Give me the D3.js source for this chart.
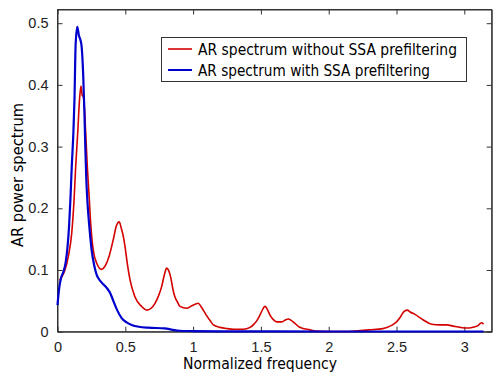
<!DOCTYPE html>
<html><head><meta charset="utf-8">
<script src="https://cdn.jsdelivr.net/npm/d3@7"></script>
<style>body{margin:0;background:#fff}svg{display:block}</style>
</head><body>
<script>
// Red: AR spectrum without SSA prefiltering (frequency, power)
const redFreq = [0.015,0.03,0.055,0.08,0.105,0.122,0.134,0.149,0.162,0.173,0.182,0.190,0.198,0.208,0.220,0.235,0.242,0.250,0.264,0.289,0.326,0.350,0.380,0.410,0.435,0.455,0.470,0.485,0.498,0.515,0.535,0.570,0.620,0.658,0.690,0.719,0.745,0.768,0.790,0.805,0.820,0.835,0.850,0.865,0.885,0.903,0.953,0.990,1.038,1.060,1.075,1.100,1.125,1.150,1.198,1.250,1.300,1.370,1.420,1.444,1.470,1.493,1.515,1.530,1.550,1.567,1.590,1.617,1.654,1.680,1.702,1.725,1.751,1.780,1.800,1.862,1.900,2.000,2.100,2.200,2.300,2.400,2.428,2.452,2.476,2.500,2.526,2.545,2.563,2.580,2.600,2.636,2.698,2.760,2.820,2.870,2.919,2.970,3.018,3.050,3.079,3.100,3.116,3.130,3.1416];
const redPower = [0.083,0.088,0.100,0.122,0.160,0.213,0.267,0.322,0.375,0.398,0.383,0.381,0.365,0.322,0.267,0.213,0.185,0.160,0.132,0.111,0.101,0.106,0.122,0.148,0.172,0.178,0.168,0.155,0.138,0.110,0.084,0.057,0.041,0.035,0.038,0.046,0.058,0.073,0.094,0.103,0.099,0.088,0.070,0.057,0.048,0.041,0.038,0.042,0.046,0.040,0.035,0.026,0.018,0.011,0.007,0.005,0.004,0.004,0.007,0.011,0.018,0.027,0.037,0.041,0.035,0.027,0.020,0.016,0.016,0.019,0.0205,0.018,0.0135,0.008,0.006,0.003,0.001,0.0003,0.0003,0.0012,0.003,0.005,0.007,0.009,0.012,0.016,0.023,0.030,0.034,0.035,0.032,0.028,0.019,0.012,0.011,0.011,0.009,0.007,0.006,0.0065,0.008,0.0097,0.013,0.0146,0.012,0.008];
// Blue: AR spectrum with SSA prefiltering
const blueFreq = [0,0.012,0.026,0.045,0.060,0.075,0.085,0.095,0.105,0.117,0.125,0.134,0.146,0.158,0.170,0.178,0.190,0.198,0.205,0.212,0.220,0.235,0.252,0.270,0.289,0.320,0.363,0.390,0.410,0.440,0.473,0.510,0.547,0.600,0.667,0.790,0.850,0.900,1.000,1.200,1.600,2.000,2.500,3.1416];
const bluePower = [0.043,0.070,0.087,0.098,0.112,0.140,0.170,0.213,0.267,0.322,0.375,0.467,0.494,0.480,0.472,0.462,0.413,0.359,0.300,0.250,0.213,0.170,0.132,0.108,0.092,0.081,0.071,0.062,0.051,0.035,0.022,0.015,0.011,0.008,0.0065,0.0055,0.003,0.0015,0.001,0.0005,0.0004,0.0003,0.0003,0.0003];
const xTicks = [0,0.5,1,1.5,2,2.5,3];
const yTicks = [0,0.1,0.2,0.3,0.4,0.5];
const xTickLabels = ["0","0.5","1","1.5","2","2.5","3"];
const yTickLabels = ["0","0.1","0.2","0.3","0.4","0.5"];
const legendLabels = ["AR spectrum without SSA prefiltering","AR spectrum with SSA prefiltering"];
const xLabel = "Normalized frequency";
const yLabel = "AR power spectrum";

(function(){
const W = 500, H = 378;
const L = 57.5, R = 491.7, T = 9.5, B = 331.7;
const svg = d3.select("body").append("svg").attr("width", W).attr("height", H);
const x = d3.scaleLinear().domain([0, 3.202]).range([L, R]);
const y = d3.scaleLinear().domain([0, 0.5222]).range([B, T]);

const axisColor = "#333";
const tickFont = "'Liberation Sans', Arial, sans-serif";
const labelFont = "'DejaVu Sans', Verdana, sans-serif";

svg.append("rect").attr("x", L).attr("y", T).attr("width", R - L).attr("height", B - T)
  .attr("fill", "#fff").attr("stroke", axisColor).attr("stroke-width", 1);

const gB = svg.append("g").attr("transform", `translate(0,${B})`)
  .call(d3.axisBottom(x).tickValues(xTicks).tickFormat((d,i)=>xTickLabels[i]).tickSizeInner(-5).tickSizeOuter(0).tickPadding(10));
const gT = svg.append("g").attr("transform", `translate(0,${T})`)
  .call(d3.axisTop(x).tickValues(xTicks).tickFormat("").tickSizeInner(-5).tickSizeOuter(0));
const gL = svg.append("g").attr("transform", `translate(${L},0)`)
  .call(d3.axisLeft(y).tickValues(yTicks).tickFormat((d,i)=>yTickLabels[i]).tickSizeInner(-5).tickSizeOuter(0).tickPadding(9));
const gR = svg.append("g").attr("transform", `translate(${R},0)`)
  .call(d3.axisRight(y).tickValues(yTicks).tickFormat("").tickSizeInner(-5).tickSizeOuter(0));
[gB, gT, gL, gR].forEach(g => {
  g.select(".domain").attr("stroke", axisColor);
  g.selectAll(".tick line").attr("stroke", axisColor);
  g.selectAll("text").attr("fill", "#222").style("font-family", tickFont).style("font-size", "14.5px");
});

const redData = redFreq.map((f,i)=>[f, redPower[i]]);
const blueData = blueFreq.map((f,i)=>[f, bluePower[i]]);
const line = d3.line().x(d=>x(d[0])).y(d=>y(d[1])).curve(d3.curveMonotoneX);
svg.append("path").datum(redData).attr("d", line).attr("fill","none").attr("stroke","#d40000").attr("stroke-width",1.6).attr("stroke-linejoin","round");
svg.append("path").datum(blueData).attr("d", line).attr("fill","none").attr("stroke","#0000cc").attr("stroke-width",2.2).attr("stroke-linejoin","round");

const lg = svg.append("g");
lg.append("rect").attr("x",161.5).attr("y",37.5).attr("width",305).attr("height",44)
  .attr("fill","#fff").attr("stroke",axisColor).attr("stroke-width",1);
const lcolors = ["#d40000","#0000cc"];
const lys = [49, 70];
legendLabels.forEach((t,i)=>{
  lg.append("line").attr("x1",168).attr("x2",192).attr("y1",lys[i]).attr("y2",lys[i])
    .attr("stroke",lcolors[i]).attr("stroke-width", i ? 2 : 1.6);
  lg.append("text").attr("x",198).attr("y",lys[i]+5.5).text(t)
    .attr("fill","#000").style("font-family",labelFont).style("font-size","15px")
    .attr("textLength", i ? 232 : 259).attr("lengthAdjust","spacingAndGlyphs");
});

svg.append("text").attr("x",260).attr("y",369).attr("text-anchor","middle").text(xLabel)
  .attr("fill","#000").style("font-family",labelFont).style("font-size","15.5px")
  .attr("textLength",154).attr("lengthAdjust","spacingAndGlyphs");
svg.append("text").attr("transform","translate(23,175) rotate(-90)").attr("text-anchor","middle").text(yLabel)
  .attr("fill","#000").style("font-family",labelFont).style("font-size","15.5px")
  .attr("textLength",144).attr("lengthAdjust","spacingAndGlyphs");
})();
</script>
</body></html>
